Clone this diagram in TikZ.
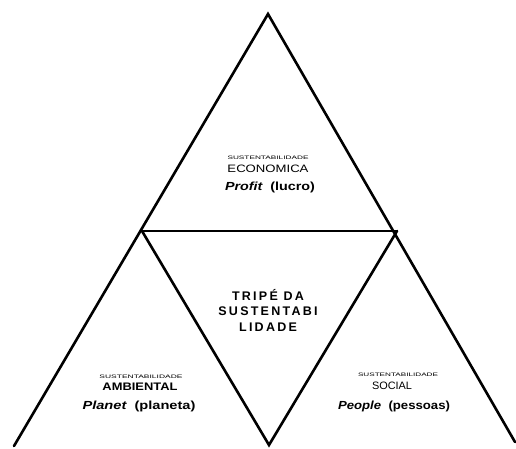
\documentclass[tikz,border=0pt]{standalone}
\usepackage{fontspec}
\setmainfont{Liberation Sans}
\setsansfont{Liberation Sans}
\newfontfamily\widefont[LetterSpace=18]{Liberation Sans}
\begin{document}
\begin{tikzpicture}[x=1pt,y=-1pt,
  edge/.style={line width=2.6pt,line join=miter,line cap=round},
  lbl/.style={inner sep=0pt,anchor=center},
  centre/.style={inner sep=0pt,align=center,font=\widefont\bfseries\fontsize{12.5}{15.5}\selectfont}]
\useasboundingbox (0,0) rectangle (516,448);
\coordinate (A) at (268,14);
\coordinate (L) at (142,231);
\coordinate (R) at (397,231);
\coordinate (M) at (269,445);
\coordinate (BL) at (14,446);
\coordinate (BR) at (515,442);
\draw[edge] (BL) -- (A) -- (BR);
\draw[edge] (L) -- (R);
\draw[edge] (L) -- (M) -- (R);
% top
\node[lbl] (t1) at (268,158) {\resizebox{81pt}{3.5pt}{SUSTENTABILIDADE}};
\node[lbl] (t2) at (268,169) {\resizebox{81pt}{7.5pt}{ECONOMICA}};
\node[lbl] (t3) at (270,187) {\resizebox{90pt}{8.5pt}{\bfseries\itshape Profit\upshape\ \ (lucro)}};
% centre
\node[centre] (c) at (268,310) {TRIPÉ DA\\SUSTENTABI\\LIDADE};
% left
\node[lbl] (l1) at (141,377) {\resizebox{83pt}{3.5pt}{SUSTENTABILIDADE}};
\node[lbl] (l2) at (140,387) {\resizebox{75pt}{7.5pt}{\bfseries AMBIENTAL}};
\node[lbl] (l3) at (139,406) {\resizebox{113pt}{8.5pt}{\bfseries\itshape Planet\upshape\ \ (planeta)}};
% right
\node[lbl] (r1) at (398,375) {\resizebox{80pt}{3.5pt}{SUSTENTABILIDADE}};
\node[lbl] (r2) at (392,386) {\resizebox{40pt}{7.5pt}{SOCIAL}};
\node[lbl] (r3) at (394,406) {\resizebox{112pt}{8.5pt}{\bfseries\itshape People\upshape\ \ (pessoas)}};
\end{tikzpicture}
\end{document}
